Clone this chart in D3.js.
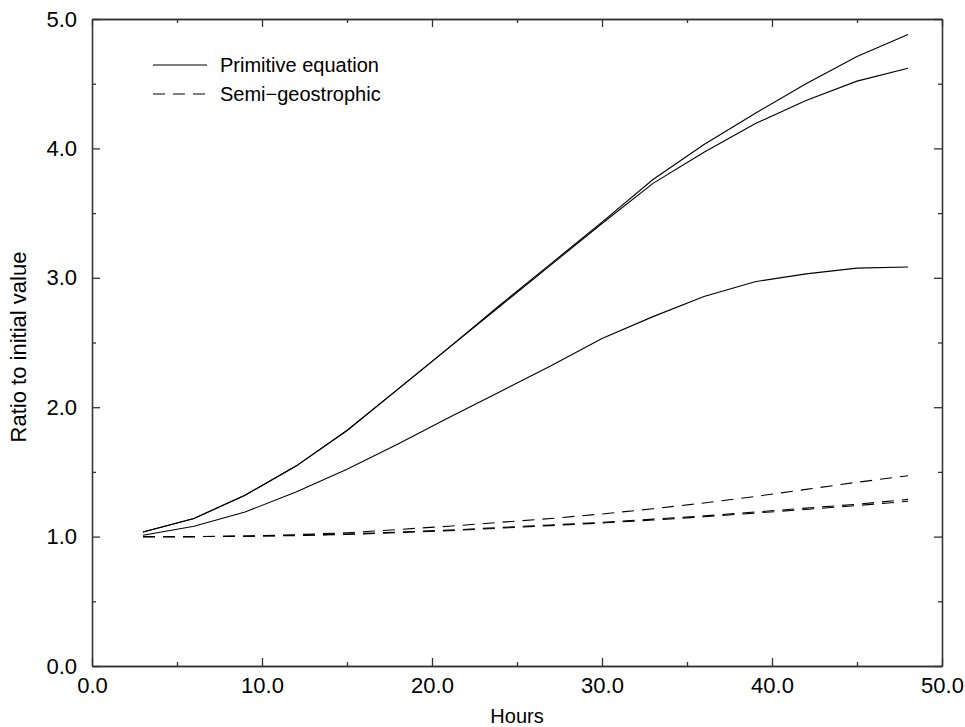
<!DOCTYPE html>
<html>
<head>
<meta charset="utf-8">
<script src="https://cdn.jsdelivr.net/npm/d3@7"></script>
<style>
  body { margin: 0; background: #fff; }
  svg { display: block; font-family: "Liberation Sans", Arial, sans-serif; }
  .axis path, .axis line { stroke: #333; stroke-width: 1.3; }
  .axis text { font-size: 22px; fill: #000; }
</style>
</head>
<body>
<svg id="chart" width="965" height="727"></svg>
<script>
// hours at which each run was sampled
let hours = [3, 6, 9, 12, 15, 18, 21, 24, 27, 30, 33, 36, 39, 42, 45, 48]

// primitive equation runs (solid)
let peA = [1.035, 1.14, 1.32, 1.545, 1.82, 2.14, 2.46, 2.79, 3.11, 3.43, 3.76, 4.03, 4.27, 4.50, 4.71, 4.88]
let peB = [1.035, 1.14, 1.32, 1.545, 1.82, 2.14, 2.46, 2.78, 3.10, 3.42, 3.73, 3.97, 4.19, 4.37, 4.52, 4.62]
let peC = [1.01, 1.08, 1.19, 1.345, 1.52, 1.715, 1.92, 2.12, 2.32, 2.53, 2.70, 2.855, 2.97, 3.03, 3.075, 3.083]

// semi-geostrophic runs (dashed)
let sgA = [1.0, 1.0, 1.005, 1.015, 1.03, 1.055, 1.08, 1.11, 1.14, 1.175, 1.215, 1.26, 1.31, 1.365, 1.42, 1.47]
let sgB = [1.0, 1.0, 1.003, 1.01, 1.02, 1.035, 1.05, 1.07, 1.09, 1.11, 1.135, 1.16, 1.19, 1.22, 1.25, 1.288]
let sgC = [1.0, 1.0, 1.002, 1.008, 1.017, 1.03, 1.045, 1.065, 1.085, 1.105, 1.128, 1.153, 1.182, 1.21, 1.24, 1.273]

let xMajor = [0, 10, 20, 30, 40, 50]
let xMinor = [5, 15, 25, 35, 45]
let yMajor = [0, 1, 2, 3, 4, 5]
let yMinor = [0.5, 1.5, 2.5, 3.5, 4.5]

let legendNames = ["Primitive equation", "Semi\u2212geostrophic"]

let width = 965, height = 727
let plot = { left: 92, right: 942, top: 19, bottom: 666 }

let svg = d3.select("#chart")

let x = d3.scaleLinear().domain([0, 50]).range([plot.left, plot.right])
let y = d3.scaleLinear().domain([0, 5]).range([plot.bottom, plot.top])
let fmt = d3.format(".1f")

// axes, ticks pointing inward on all four sides
function addAxis(axis, tx, ty, labels) {
    let g = svg.append("g")
        .attr("class", "axis")
        .attr("transform", `translate(${tx}, ${ty})`)
        .call(axis)
    if (!labels) g.selectAll("text").remove()
    return g
}

addAxis(d3.axisBottom(x).tickValues(xMinor).tickSizeInner(-4).tickSizeOuter(0).tickFormat(""), 0, plot.bottom, false)
addAxis(d3.axisBottom(x).tickValues(xMajor).tickSizeInner(-8).tickSizeOuter(0).tickPadding(11).tickFormat(fmt), 0, plot.bottom, true)
addAxis(d3.axisTop(x).tickValues(xMinor).tickSizeInner(-4).tickSizeOuter(0), 0, plot.top, false)
addAxis(d3.axisTop(x).tickValues(xMajor).tickSizeInner(-8).tickSizeOuter(0), 0, plot.top, false)

addAxis(d3.axisLeft(y).tickValues(yMinor).tickSizeInner(-4).tickSizeOuter(0).tickFormat(""), plot.left, 0, false)
addAxis(d3.axisLeft(y).tickValues(yMajor).tickSizeInner(-8).tickSizeOuter(0).tickPadding(15).tickFormat(fmt), plot.left, 0, true)
addAxis(d3.axisRight(y).tickValues(yMinor).tickSizeInner(-4).tickSizeOuter(0), plot.right, 0, false)
addAxis(d3.axisRight(y).tickValues(yMajor).tickSizeInner(-8).tickSizeOuter(0), plot.right, 0, false)

// axis titles
svg.append("text")
    .attr("x", (plot.left + plot.right) / 2)
    .attr("y", 723)
    .attr("text-anchor", "middle")
    .attr("font-size", 20)
    .text("Hours")
svg.append("text")
    .attr("transform", `translate(26, 347) rotate(-90)`)
    .attr("text-anchor", "middle")
    .attr("font-size", 22)
    .text("Ratio to initial value")

// the curves
let line = d3.line()
    .x(function(d, i) { return x(hours[i]) })
    .y(function(d) { return y(d) })

let series = [
    { values: peA, dash: null },
    { values: peB, dash: null },
    { values: peC, dash: null },
    { values: sgA, dash: "12,8" },
    { values: sgB, dash: "12,8" },
    { values: sgC, dash: "12,8" }
]

svg.selectAll(".curve")
    .data(series)
    .enter()
    .append("path")
    .attr("class", "curve")
    .attr("fill", "none")
    .attr("stroke", "#000")
    .attr("stroke-width", 1.1)
    .attr("stroke-dasharray", function(d) { return d.dash })
    .attr("d", function(d) { return line(d.values) })

// legend
let legend = svg.append("g").attr("transform", "translate(153, 65)")
legendNames.forEach(function(name, i) {
    legend.append("line")
        .attr("x1", 0).attr("x2", 54)
        .attr("y1", i * 29).attr("y2", i * 29)
        .attr("stroke", "#000")
        .attr("stroke-width", 1.1)
        .attr("stroke-dasharray", i == 1 ? "12,8" : null)
    legend.append("text")
        .attr("x", 67)
        .attr("y", i * 29)
        .attr("dy", "0.35em")
        .attr("font-size", 20)
        .text(name)
})
</script>
</body>
</html>
